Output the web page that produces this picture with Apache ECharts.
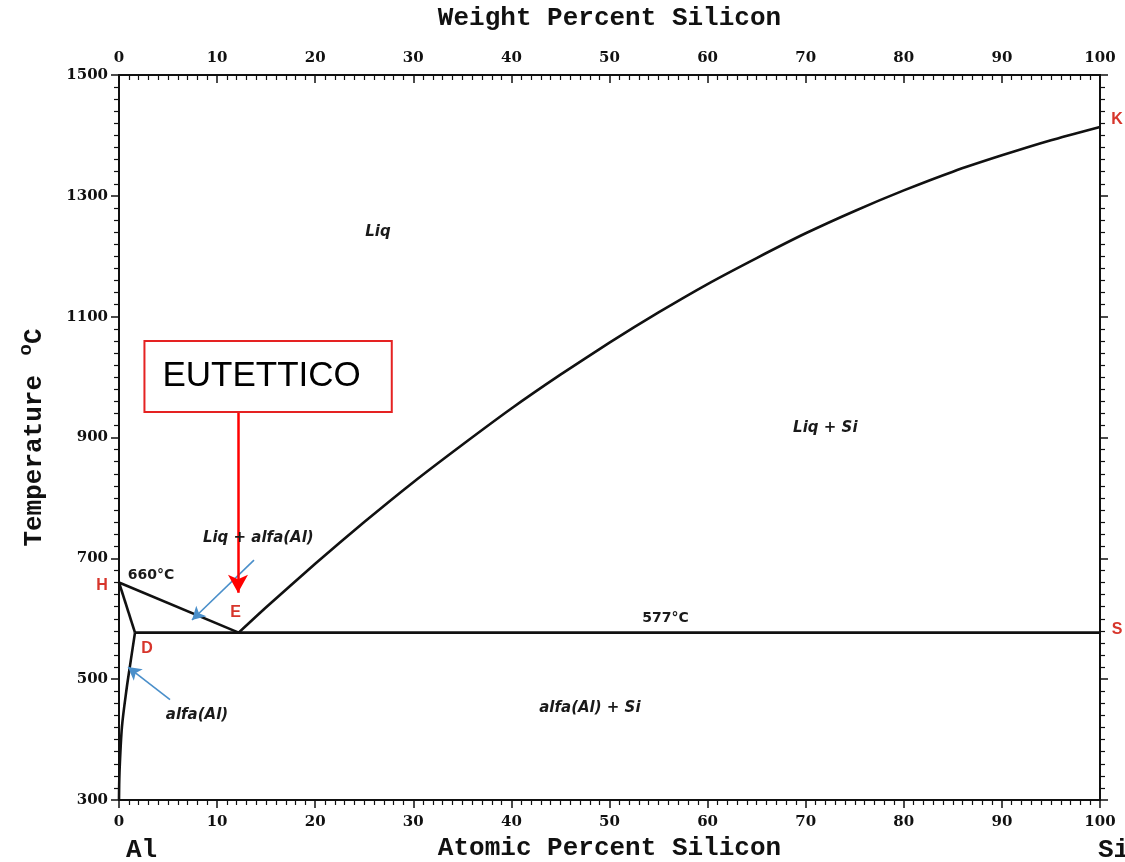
<!DOCTYPE html>
<html>
<head>
<meta charset="utf-8">
<script src="https://cdn.jsdelivr.net/npm/echarts@6/dist/echarts.min.js"></script>
<style>
  html, body { margin: 0; padding: 0; background: #ffffff; }
  #chart { width: 1125px; height: 862px; }
</style>
</head>
<body>
<div id="chart"></div>
<script>
// Al–Si equilibrium phase diagram (atomic % Si vs temperature, °C)

// Liquidus, aluminium side: melting point of Al down to the eutectic
const liquidusAl = [[0, 660], [12.2, 577]];
// Liquidus, silicon side: eutectic up to the melting point of Si
const liquidusSi = [
  [12.2, 577], [15, 619], [20, 691], [25, 760], [30, 826], [35, 888],
  [40, 948], [45, 1004], [50, 1057], [55, 1107], [60, 1154], [65, 1197],
  [70, 1238], [75, 1275], [80, 1309], [85, 1340], [90, 1367], [95, 1392],
  [100, 1414]
];
// Solidus of alfa(Al)
const solidusAl = [[0, 660], [1.63, 577]];
// Solvus of alfa(Al)
const solvusAl = [[1.63, 577], [1.1, 520], [0.8, 487], [0.3, 421], [0.05, 345], [0, 300]];
// Eutectic isotherm
const eutecticLine = [[1.63, 577], [100, 577]];

// Tick values
const tempMin = 300, tempMax = 1500, tempStep = 200;
const pctMin = 0, pctMax = 100, pctStep = 10;

// Phase field names (data coordinates)
const phaseLabels = [
  { text: 'Liq', at: [26.4, 1240] },
  { text: 'Liq + Si', at: [72, 916] },
  { text: 'Liq + alfa(Al)', at: [14.2, 734] },
  { text: 'alfa(Al) + Si', at: [48, 452] },
  { text: 'alfa(Al)', at: [7.95, 441] }
];
// Characteristic temperatures
const tempLabels = [
  { text: '660°C', at: [0.9, 672], align: 'left' },
  { text: '577°C', at: [55.7, 601], align: 'center' }
];
// Invariant points
const pointLetters = [
  { text: 'H', at: [0, 660], offset: [-17, 3] },
  { text: 'E', at: [12.2, 577], offset: [-3, -20] },
  { text: 'D', at: [1.63, 577], offset: [12, 16] },
  { text: 'K', at: [100, 1414], offset: [17, -7] },
  { text: 'S', at: [100, 577], offset: [17, -3] }
];
// Pointer arrows from labels to their fields
const blueArrows = [
  [[13.76, 697], [7.44, 598]],
  [[5.2, 466], [0.92, 520]]
];
// Eutectic callout
const eutecticNote = { text: 'EUTETTICO', at: [15.2, 1001] };
const eutecticArrow = [[12.13, 944], [12.13, 643]];

const serif = 'DejaVu Serif';
const mono = 'Liberation Mono';
const sans = 'DejaVu Sans';

function valueAxisX(position, name, nameGap, inside) {
  return {
    type: 'value', position: position, min: pctMin, max: pctMax, interval: pctStep,
    name: name, nameLocation: 'middle', nameGap: nameGap,
    nameTextStyle: { fontFamily: mono, fontWeight: 'bold', fontSize: 26, color: '#111' },
    axisLine: { show: true, onZero: false, lineStyle: { color: '#111', width: 2 } },
    axisTick: { show: true, inside: inside, length: 8, lineStyle: { color: '#111', width: 1.5 } },
    minorTick: { show: true, splitNumber: 10, length: 5, lineStyle: { color: '#111', width: 1.2 } },
    axisLabel: {
      fontFamily: serif, fontWeight: 'bold', fontSize: 15, color: '#111',
      margin: position === 'top' ? 9 : 15, formatter: v => String(v)
    },
    splitLine: { show: false }, minorSplitLine: { show: false }
  };
}

function valueAxisY(position, showLabels) {
  return {
    type: 'value', position: position, min: tempMin, max: tempMax, interval: tempStep,
    axisLine: { show: true, onZero: false, lineStyle: { color: '#111', width: 2 } },
    axisTick: { show: true, inside: false, length: 8, lineStyle: { color: '#111', width: 1.5 } },
    minorTick: { show: true, splitNumber: 10, length: 5, lineStyle: { color: '#111', width: 1.2 } },
    axisLabel: {
      show: showLabels, fontFamily: serif, fontWeight: 'bold', fontSize: 15, color: '#111',
      margin: 11, formatter: v => String(v)
    },
    splitLine: { show: false }, minorSplitLine: { show: false }
  };
}

function phaseLine(data, smooth) {
  return {
    type: 'line', data: data, showSymbol: false, smooth: smooth || false,
    lineStyle: { color: '#111', width: 2.6 }, silent: true, z: 3
  };
}

function arrowLine(seg, color, width, head) {
  return [
    { coord: seg[0], symbol: 'none' },
    { coord: seg[1], symbol: 'arrow', symbolSize: head, lineStyle: { color: color, width: width, type: 'solid', opacity: 1 } }
  ];
}

const yAxisLeft = valueAxisY('left', true);
yAxisLeft.name = 'Temperature {sup|o}C';
yAxisLeft.nameLocation = 'middle';
yAxisLeft.nameRotate = 90;
yAxisLeft.nameGap = 67;
yAxisLeft.nameTextStyle = {
  fontFamily: mono, fontWeight: 'bold', fontSize: 26, color: '#111',
  rich: { sup: { fontFamily: mono, fontWeight: 'bold', fontSize: 19, color: '#111', padding: [0, 0, 16, 4] } }
};

const annotationPoints = []
  .concat(phaseLabels.map(p => ({
    value: p.at,
    label: { show: true, position: 'inside', formatter: p.text, fontFamily: sans, fontStyle: 'italic', fontWeight: 'bold', fontSize: 15, color: '#1a1a1a', opacity: 1 }
  })))
  .concat(tempLabels.map(p => ({
    value: p.at,
    label: { show: true, position: 'inside', formatter: p.text, align: p.align, fontFamily: sans, fontWeight: 'bold', fontSize: 14, color: '#1a1a1a', opacity: 1 }
  })))
  .concat(pointLetters.map(p => ({
    value: p.at,
    label: { show: true, position: 'inside', offset: p.offset, formatter: p.text, fontFamily: 'Liberation Sans', fontWeight: 'bold', fontSize: 16, color: '#d7352b', opacity: 1 }
  })))
  .concat([{
    value: eutecticNote.at,
    label: {
      show: true, position: 'inside', formatter: eutecticNote.text, fontFamily: 'Liberation Sans', fontSize: 35, color: '#000000', opacity: 1,
      backgroundColor: '#ffffff', borderColor: '#e52222', borderWidth: 2, padding: [15, 30, 14, 17], lineHeight: 40
    }
  }]);

const chart = echarts.init(document.getElementById('chart'), null, { renderer: 'canvas' });
chart.setOption({
  animation: false,
  backgroundColor: '#ffffff',
  grid: { left: 119, right: 25, top: 75, bottom: 62, containLabel: false, outerBoundsMode: 'none' },
  title: [
    { text: 'Al', left: 121, top: 832, textStyle: { fontFamily: mono, fontSize: 26, fontWeight: 'bold', color: '#111' } },
    { text: 'Si', left: 1093, top: 832, textStyle: { fontFamily: mono, fontSize: 26, fontWeight: 'bold', color: '#111' } }
  ],
  xAxis: [
    valueAxisX('bottom', 'Atomic Percent Silicon', 35, false),
    valueAxisX('top', 'Weight Percent Silicon', 44, true)
  ],
  yAxis: [yAxisLeft, valueAxisY('right', false)],
  series: [
    phaseLine(liquidusAl),
    phaseLine(liquidusSi, 0.2),
    phaseLine(solidusAl),
    phaseLine(solvusAl, 0.3),
    phaseLine(eutecticLine),
    {
      type: 'scatter', data: annotationPoints, symbolSize: 1,
      itemStyle: { color: 'rgba(0,0,0,0)', opacity: 1 },
      clip: false, silent: true, z: 6,
      markLine: {
        silent: true, animation: false, label: { show: false },
        data: blueArrows.map(a => arrowLine(a, '#4a8fca', 1.6, [11, 13]))
          .concat([arrowLine(eutecticArrow, '#ff0000', 2.5, [15, 18])])
      }
    }
  ]
});
</script>
</body>
</html>
